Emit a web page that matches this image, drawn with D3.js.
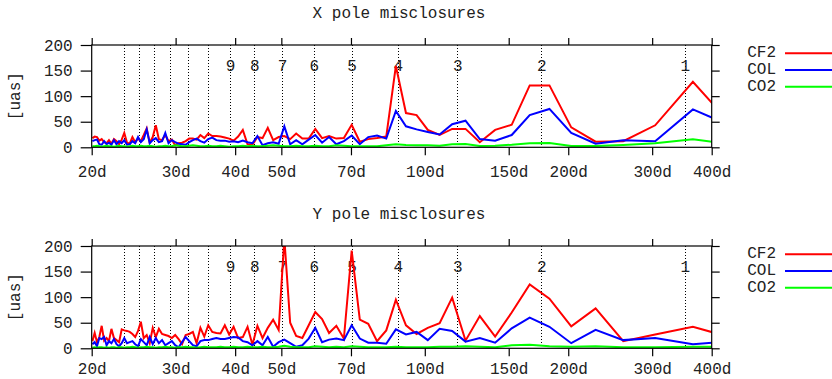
<!DOCTYPE html>
<html>
<head>
<meta charset="utf-8">
<script src="https://cdn.jsdelivr.net/npm/d3@7"></script>
<style>
  html, body { margin: 0; padding: 0; background: #fff; }
  svg { display: block; }
  text { font-family: "Liberation Mono", "DejaVu Sans Mono", monospace; fill: #222; }
</style>
</head>
<body>
<svg id="chart" width="832" height="379"></svg>
<script>
// Periods (days) of the sampled frequencies, ascending
const periods = [
  20.07, 20.29, 20.52, 20.75, 20.99, 21.24, 21.49, 21.74, 22.00, 22.27,
  22.55, 22.83, 23.12, 23.41, 23.72, 24.03, 24.35, 24.68, 25.02, 25.36,
  25.72, 26.09, 26.47, 26.86, 27.26, 27.67, 28.10, 28.54, 28.99, 29.46,
  29.94, 30.44, 30.95, 31.49, 32.04, 32.61, 33.20, 33.82, 34.46, 35.12,
  35.81, 36.53, 37.27, 38.05, 38.86, 39.70, 40.58, 41.51, 42.47, 43.48,
  44.54, 45.66, 46.83, 48.06, 49.36, 50.73, 52.18, 53.71, 55.34, 57.07,
  58.91, 60.88, 62.97, 65.22, 67.64, 70.24, 73.05, 76.09, 79.40, 83.01,
  86.96, 91.31, 96.12, 101.46, 107.43, 114.14, 121.75, 130.45, 140.48, 152.19,
  166.02, 182.63, 202.92, 228.28, 260.89, 304.38, 365.25, 456.56
];

// X pole misclosures [uas]
const xCF2 = [
  18, 21, 20, 13, 16, 10, 8, 14, 7, 16,
  12, 6, 15, 28, 9, 7, 20, 10, 17, 12,
  24, 37, 9, 20, 43, 16, 14, 24, 12, 15,
  4, 8, 9, 12, 17, 17, 15, 24, 18, 27,
  22, 22, 21, 19, 17, 13, 21, 34, 6, 5,
  20, 18, 38, 14, 20, 22, 16, 27, 17, 17,
  36, 18, 22, 17, 18, 44, 11, 16, 18, 21,
  159, 67, 63, 34, 24, 36, 36, 10, 34, 44,
  121, 121, 39, 11, 12, 43, 128, 28
];
const xCOL = [
  12, 14, 15, 6, 5, 12, 6, 9, 5, 14,
  6, 12, 8, 14, 5, 6, 12, 8, 20, 10,
  16, 35, 8, 14, 18, 10, 12, 28, 8, 14,
  10, 7, 6, 5, 10, 14, 17, 12, 9, 16,
  19, 14, 13, 13, 11, 12, 10, 13, 10, 8,
  22, 4, 8, 10, 7, 41, 6, 14, 6, 15,
  24, 9, 20, 6, 12, 23, 6, 20, 23, 17,
  71, 41, 35, 30, 25, 45, 52, 16, 13, 24,
  63, 75, 28, 7, 14, 12, 74, 35
];
const xCO2 = [
  2, 2, 3, 2, 1, 2, 3, 2, 2, 1,
  2, 3, 2, 2, 1, 2, 3, 2, 2, 3,
  2, 2, 3, 2, 1, 2, 2, 3, 2, 2,
  4, 3, 2, 2, 3, 4, 3, 2, 2, 3,
  2, 2, 3, 2, 1, 2, 2, 3, 2, 3,
  2, 2, 3, 4, 3, 2, 2, 3, 2, 2,
  3, 2, 2, 4, 3, 2, 2, 2, 2, 4,
  6, 4.5, 4, 4, 3, 6, 6.5, 2.6, 3, 5,
  8, 8.4, 2.6, 2.6, 4.5, 8, 15.6, 4.4
];

// Y pole misclosures [uas]
const yCF2 = [
  14, 30, 12, 22, 44, 15, 20, 14, 38, 20,
  16, 12, 37, 35, 34, 32, 28, 22, 34, 52,
  20, 26, 10, 40, 22, 38, 28, 26, 24, 20,
  26, 18, 8, 26, 28, 32, 10, 40, 23, 45,
  32, 30, 29, 45, 27, 42, 20, 22, 42, 7,
  44, 20, 40, 56, 36, 215, 50, 24, 20, 45,
  71, 57, 30, 44, 19, 191, 56, 48, 14, 35,
  95, 45, 28, 40, 49, 99, 15, 63, 23, 70,
  125, 97, 43, 78, 14, 27, 42, 17
];
const yCOL = [
  8, 12, 4, 20, 18, 22, 6, 14, 10, 18,
  8, 4, 10, 20, 10, 12, 14, 8, 4, 18,
  12, 6, 22, 8, 20, 10, 16, 6, 10, 14,
  6, 2, 12, 22, 14, 6, 4, 14, 16, 16,
  18, 20, 18, 18, 20, 22, 21, 14, 12, 6,
  14, 6, 22, 3, 12, 17, 10, 3, 6, 19,
  40, 12, 17, 19, 16, 45, 19, 11, 11, 9,
  37, 27, 32, 16, 38, 34, 13, 20, 11, 39,
  60, 42, 10, 36, 16, 20, 8, 15
];
const yCO2 = [
  1, 2, 1, 2, 2, 1, 2, 1, 2, 2,
  1, 2, 2, 1, 2, 2, 3, 2, 1, 2,
  2, 3, 2, 2, 1, 2, 2, 3, 2, 2,
  1, 2, 2, 3, 2, 2, 1, 2, 3, 2,
  2, 2, 3, 2, 2, 3, 2, 2, 3, 2,
  2, 3, 2, 2, 3, 5, 3, 2, 2, 2,
  4, 3, 2, 3, 2, 4, 3, 2, 2, 2,
  3, 2, 2, 2, 3, 3, 4, 3, 2, 6,
  7, 4, 3, 4, 2, 2, 3, 3
];

// Axis tick values and labels
const xTicks = [20, 30, 40, 50, 70, 100, 150, 200, 300, 400];
const yTicks = [0, 50, 100, 150, 200];
// Reference periods (352 d / n) and their labels
const harmonicN = [1, 2, 3, 4, 5, 6, 7, 8, 9, 10, 11, 12, 13, 14, 15];
const harmonicBase = 352;
const labelledN = [1, 2, 3, 4, 5, 6, 7, 8, 9];

const seriesNames = ["CF2", "COL", "CO2"];
const seriesColors = ["#ff0000", "#0000ff", "#00ff00"];

const svg = d3.select("#chart");
const x = d3.scaleLog().domain([20, 400]).range([91.7, 711.7]);
const FONT = 16;

function panel(top, title, values, xPad) {
  const y = d3.scaleLinear().domain([0, 200]).range([top + 102.3, top]);
  const g = svg.append("g");
  const left = x.range()[0], right = x.range()[1];
  const y0 = y(0), y1 = y(200);

  // title
  g.append("text").attr("x", 399).attr("y", top - 31.5)
    .attr("text-anchor", "middle").attr("dominant-baseline", "central")
    .style("font-size", FONT + "px").text(title);

  // y label
  g.append("text")
    .attr("transform", `translate(16,${(y0 + y1) / 2}) rotate(-90)`)
    .attr("text-anchor", "middle").attr("dominant-baseline", "central")
    .style("font-size", FONT + "px").text("[uas]");

  // reference dotted lines
  g.append("g").selectAll("line").data(harmonicN).join("line")
    .attr("x1", n => x(harmonicBase / n)).attr("x2", n => x(harmonicBase / n))
    .attr("y1", y1).attr("y2", y0)
    .attr("stroke", "#000").attr("stroke-width", 1)
    .attr("stroke-dasharray", "1,2").attr("shape-rendering", "crispEdges");

  g.append("g").selectAll("text").data(labelledN).join("text")
    .attr("x", n => x(harmonicBase / n)).attr("y", y(157))
    .attr("text-anchor", "middle").attr("dominant-baseline", "central")
    .style("font-size", FONT + "px").text(n => n);

  // axes
  const axB = g.append("g").attr("transform", `translate(0,${y0})`)
    .call(d3.axisBottom(x).tickValues(xTicks).tickFormat(d => d + "d")
      .tickSize(8).tickPadding(xPad).tickSizeOuter(0));
  const axT = g.append("g").attr("transform", `translate(0,${y1})`)
    .call(d3.axisTop(x).tickValues(xTicks).tickFormat("").tickSize(7).tickSizeOuter(0));
  const axL = g.append("g").attr("transform", `translate(${left},0)`)
    .call(d3.axisLeft(y).tickValues(yTicks).tickSize(11).tickPadding(8).tickSizeOuter(0));
  const axR = g.append("g").attr("transform", `translate(${right},0)`)
    .call(d3.axisRight(y).tickValues(yTicks).tickFormat("").tickSize(8).tickSizeOuter(0));
  [axB, axT, axL, axR].forEach(a => {
    a.select(".domain").remove();
    a.selectAll("line").attr("stroke", "#000").attr("stroke-width", 1.2);
    a.selectAll("text").style("font-size", FONT + "px")
      .style("font-family", '"Liberation Mono", monospace').attr("fill", "#222");
  });

  // clip
  const cid = "clip" + top;
  svg.append("clipPath").attr("id", cid).append("rect")
    .attr("x", left).attr("y", y1).attr("width", right - left).attr("height", y0 - y1);

  const line = d3.line().x((d, i) => x(periods[i])).y(d => y(d));
  const dg = g.append("g").attr("clip-path", `url(#${cid})`);
  values.forEach((vals, s) => {
    dg.append("path").datum(vals).attr("d", line)
      .attr("fill", "none").attr("stroke", seriesColors[s])
      .attr("stroke-width", 2).attr("stroke-linejoin", "miter");
  });

  // border
  g.append("rect").attr("x", left).attr("y", y1)
    .attr("width", right - left).attr("height", y0 - y1)
    .attr("fill", "none").attr("stroke", "#000").attr("stroke-width", 1.2);

  // legend
  seriesNames.forEach((name, s) => {
    const ly = top + 8.3 + s * 16.7;
    g.append("text").attr("x", 776).attr("y", ly)
      .attr("text-anchor", "end").attr("dominant-baseline", "central")
      .style("font-size", FONT + "px").text(name);
    g.append("line").attr("x1", 785).attr("x2", 840).attr("y1", ly).attr("y2", ly)
      .attr("stroke", seriesColors[s]).attr("stroke-width", 2);
  });
}

panel(45, "X pole misclosures", [xCF2, xCOL, xCO2], 10);
panel(246, "Y pole misclosures", [yCF2, yCOL, yCO2], 6);
</script>
</body>
</html>
